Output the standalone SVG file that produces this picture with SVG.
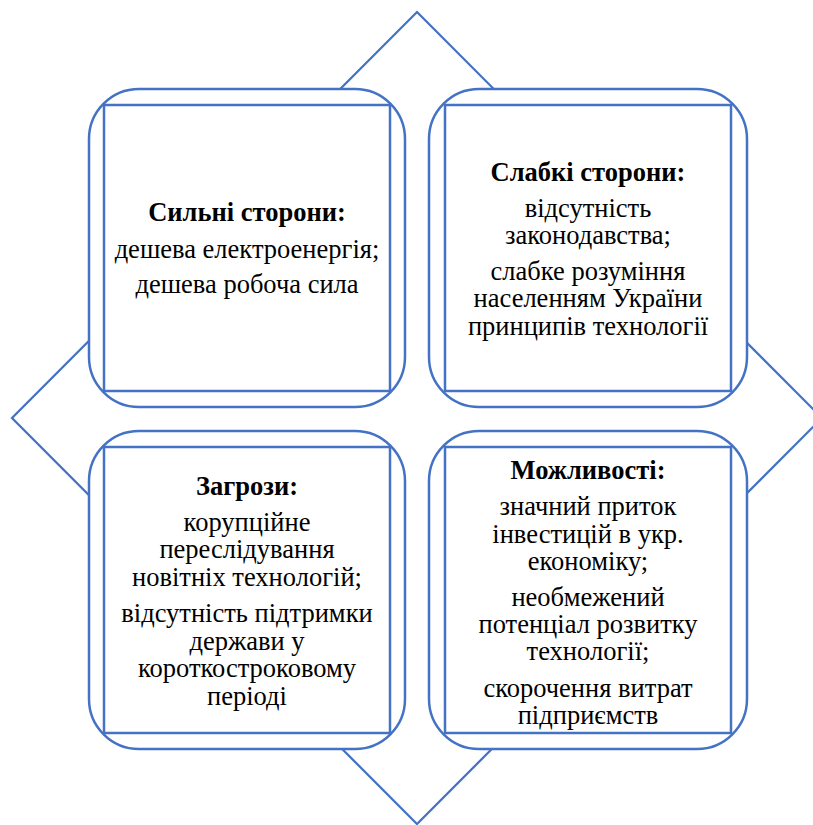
<svg xmlns="http://www.w3.org/2000/svg" width="813" height="825" viewBox="0 0 813 825">
<style>
.bg{fill:#ffffff}
.dia{fill:#ffffff;stroke:#4472C4;stroke-width:2.25}
.outer{fill:#ffffff;stroke:#4472C4;stroke-width:2.5}
.inner{fill:none;stroke:#4472C4;stroke-width:2.5}
.t{font-family:'Liberation Serif',serif;font-size:26.5px;fill:#000000;text-anchor:middle}
.h{font-weight:bold}
</style>
<rect class="bg" x="0" y="0" width="813" height="825"/>
<g id="connectors">
<polygon class="dia" points="417,12 822,418 417,824 12,418"/>
</g>
<g id="strengths">
<rect class="outer" x="89" y="89" width="316" height="318" rx="50" ry="50"/>
<rect class="inner" x="104" y="105" width="286" height="286"/>
<g class="t" font-family="Liberation Serif, serif">
<text class="h" x="247" y="221">Сильні сторони:</text>
<text x="247" y="258">дешева електроенергія;</text>
<text x="247" y="293">дешева робоча сила</text>
</g>
</g>
<g id="weaknesses">
<rect class="outer" x="429" y="89" width="318" height="318" rx="50" ry="50"/>
<rect class="inner" x="445" y="105" width="286" height="286"/>
<g class="t" font-family="Liberation Serif, serif">
<text class="h" x="588" y="181">Слабкі сторони:</text>
<text x="588" y="217">відсутність</text>
<text x="588" y="244">законодавства;</text>
<text x="588" y="280">слабке розуміння</text>
<text x="588" y="307">населенням України</text>
<text x="588" y="335">принципів технології</text>
</g>
</g>
<g id="threats">
<rect class="outer" x="89" y="431" width="316" height="318" rx="50" ry="50"/>
<rect class="inner" x="104" y="447" width="286" height="286"/>
<g class="t" font-family="Liberation Serif, serif">
<text class="h" x="247" y="495">Загрози:</text>
<text x="247" y="531">корупційне</text>
<text x="247" y="558">переслідування</text>
<text x="247" y="586">новітніх технологій;</text>
<text x="247" y="622">відсутність підтримки</text>
<text x="247" y="650">держави у</text>
<text x="247" y="677">короткостроковому</text>
<text x="247" y="705">періоді</text>
</g>
</g>
<g id="opportunities">
<rect class="outer" x="429" y="431" width="318" height="318" rx="50" ry="50"/>
<rect class="inner" x="445" y="447" width="286" height="286"/>
<g class="t" font-family="Liberation Serif, serif">
<text class="h" x="588" y="479">Можливості:</text>
<text x="588" y="515">значний приток</text>
<text x="588" y="543">інвестицій в укр.</text>
<text x="588" y="570">економіку;</text>
<text x="588" y="606">необмежений</text>
<text x="588" y="633">потенціал розвитку</text>
<text x="588" y="660">технології;</text>
<text x="588" y="697">скорочення витрат</text>
<text x="588" y="724">підприємств</text>
</g>
</g>
</svg>
